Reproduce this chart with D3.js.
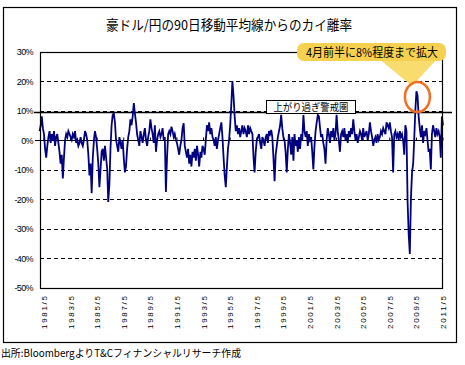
<!DOCTYPE html>
<html><head><meta charset="utf-8">
<script src="https://cdn.jsdelivr.net/npm/d3@7"></script>
<style>body{margin:0;background:#fff}svg{display:block}</style>
</head><body>
<script>
// ---- data ----
const startYear = 1981, startMonth = 0; // 1981/1, monthly values
const deviation = [
 3,5,8,4,2,-3,-6,-2,1,3,-1,2,
 0,3,-2,1,2,-1,-4,-8,-5,-13,-6,0,
 2,1,3,2,1,0,2,1,3,-1,0,-2,
 -1,1,-1,-2,0,3,2,0,-5,-12,-8,-18,
 -6,0,3,1,-3,-8,-16,-10,-4,-3,-7,-2,
 -6,-10,-21,-15,-3,5,8.5,9,6,0,-2,-4,
 1,-1,-3,0,-6,-11,-9,-3,1,3,7,5,
 8,12.5,9,6,2,0,-2,3,1,-1,2,4,
 0,-2,1,3,7,4,2,-1,5,-4,0,2,
 3,1,2,4,0,1,-17.6,-6,2,3,2,4.5,
 3,1,2,0,-1,-3,-5,-2,0,4,5.7,-2,
 -4,-6,-3,-8,-5,-9,-4,-6,-3,-7,-2,-5,
 -9,-4,-6,-2,-3,-5,0,5,3,6,2,4,
 1,0,-2,1,-3,0,2,4,6,1,-6,-12,
 -16,-9,-3,0,5,12,20,15,8,3,5,2,
 4,1,3,5,2,4,3,1,5,2,4,3,
 2,-6,-11,-4,0,1,2,-1,-3,1,0,-2,
 1,2,-1,3,2,3.4,1,-6,-14,-5,-2,1,
 3,5,8.5,4,1,0,-4,-11,-3,2,-1,-5,
 1,-7,2,-2,0,-4,1,-3,2,0,8.5,3,
 1,3,-2,2,0,1,-4,-10,-2,3,6,8.5,
 8,4,1,2,-1,-3,-8,0,4,2,-1,3,
 1,4,0,2,8.5,3,0,-4,2,3,1,4,
 0,2,-1,3,1,4,2,7,3,0,2,-1,
 1,3,2,0,4,1,2,3,0,2,6,3,
 1,-2,0,1,-1,2,0,1,3,2,4,3,
 2,6,5,4,6,3,1,-11,2,3,1,2,
 0,3,1,2,0,-5,5,3,-21,-32,-38.6,-20,
 -11,-8,0,10,16.5,15,8,4,1,5,-1,3,
 2,4,0,-4,-3,-10,2,5,3,1,4,2,
 3,1,-6,8,5
];
const yTicks = [30,20,10,0,-10,-20,-30,-40,-50];
const xTickLabels = ["1981/5","1983/5","1985/5","1987/5","1989/5","1991/5","1993/5","1995/5",
  "1997/5","1999/5","2001/5","2003/5","2005/5","2007/5","2009/5","2011/5"];
const title = "豪ドル/円の90日移動平均線からのカイ離率";
const calloutText = "4月前半に8%程度まで拡大";
const zoneText = "上がり過ぎ警戒圏";
const sourceText = "出所:BloombergよりT&Cフィナンシャルリサーチ作成";
const warnLevel = 10;

// ---- chart ----
const W = 465, H = 365;
const svg = d3.select("body").append("svg").attr("width", W).attr("height", H);
const jp = "'Noto Sans CJK JP', sans-serif";

svg.append("rect").attr("x",3.5).attr("y",7.5).attr("width",453).attr("height",335)
  .attr("fill","#fff").attr("stroke","#000").attr("stroke-width",1.2);

const parse = s => { const [yy,m] = s.split("/").map(Number); return new Date(yy, m-1, 1); };
const data = deviation.map((v,i) => ({date: new Date(startYear, startMonth + i, 1), v}));
const x = d3.scaleTime().domain([data[0].date, data[data.length-1].date]).range([39.6, 443]);
const y = d3.scaleLinear().domain([-50, 30]).range([287.5, 51.5]);
const L = 40, R = 443;

// title
svg.append("text").attr("x",229).attr("y",30).attr("text-anchor","middle")
  .attr("font-family",jp).attr("font-size",13.5).attr("textLength",246)
  .attr("lengthAdjust","spacingAndGlyphs").text(title);

// dashed gridlines
svg.append("g").selectAll("line").data(yTicks.filter(t => t < 30 && t > -50)).join("line")
  .attr("x1",L).attr("x2",R).attr("y1",d=>Math.round(y(d))+0.5).attr("y2",d=>Math.round(y(d))+0.5)
  .attr("stroke","#000").attr("stroke-width",1).attr("stroke-dasharray","4,3");

// warning line at 10%
svg.append("line").attr("x1",34).attr("x2",452)
  .attr("y1",Math.round(y(warnLevel))+1.5).attr("y2",Math.round(y(warnLevel))+1.5)
  .attr("stroke","#000").attr("stroke-width",1.3);

// zero axis
svg.append("line").attr("x1",35).attr("x2",R).attr("y1",Math.round(y(0))+0.5).attr("y2",Math.round(y(0))+0.5)
  .attr("stroke","#000").attr("stroke-width",1);
svg.append("g").selectAll("line").data(xTickLabels).join("line")
  .attr("x1",d=>x(parse(d))).attr("x2",d=>x(parse(d)))
  .attr("y1",Math.round(y(0))+0.5).attr("y2",Math.round(y(0))-2.5)
  .attr("stroke","#000").attr("stroke-width",1);

// series line
svg.append("path").datum(data)
  .attr("d", d3.line().x(d=>x(d.date)).y(d=>y(d.v)))
  .attr("fill","none").attr("stroke","#000080").attr("stroke-width",1.8).attr("stroke-linejoin","miter");

// plot frame
svg.append("rect").attr("x",L+0.5).attr("y",Math.round(y(30))+0.5)
  .attr("width",R-L-1).attr("height",Math.round(y(-50))-Math.round(y(30)))
  .attr("fill","none").attr("stroke","#000").attr("stroke-width",1.2);

// y labels
svg.append("g").selectAll("text").data(yTicks).join("text")
  .attr("x",33).attr("y",d=>y(d)+3.5).attr("text-anchor","end")
  .attr("font-family","'Liberation Sans', Arial, sans-serif").attr("font-size",9)
  .attr("letter-spacing",-0.6).text(d=>d+"%");

// x labels (rotated)
svg.append("g").selectAll("text").data(xTickLabels).join("text")
  .attr("transform",d=>`translate(${x(parse(d))+3},296) rotate(-90)`)
  .attr("text-anchor","end")
  .attr("font-family","'Liberation Sans', Arial, sans-serif").attr("font-size",8)
  .attr("textLength",33).attr("lengthAdjust","spacing").text(d=>d);

// zone label
svg.append("rect").attr("x",266.5).attr("y",100.5).attr("width",89).attr("height",13)
  .attr("fill","#fff").attr("stroke","#000").attr("stroke-width",1);
svg.append("text").attr("x",311).attr("y",110.5).attr("text-anchor","middle")
  .attr("font-family",jp).attr("font-size",10.5).attr("textLength",75)
  .attr("lengthAdjust","spacingAndGlyphs").text(zoneText);

// callout
const yellow = "#f6d14f";
svg.append("polygon").attr("points","378,58 438,58 412,86").attr("fill","#f8dc6e");
svg.append("rect").attr("x",297).attr("y",43).attr("width",149).attr("height",18).attr("rx",7)
  .attr("fill",yellow);
svg.append("text").attr("x",372).attr("y",57).attr("text-anchor","middle")
  .attr("font-family",jp).attr("font-size",12).attr("textLength",132)
  .attr("lengthAdjust","spacingAndGlyphs").text(calloutText);

// highlight ellipse around 2009 peak
const peak = data.reduce((a,b)=> (b.date.getFullYear()===2009 && b.v > a.v) ? b : a, {v:-Infinity});
svg.append("ellipse").attr("cx",x(peak.date)+1).attr("cy",97).attr("rx",12.5).attr("ry",15)
  .attr("fill","none").attr("stroke","#f26f21").attr("stroke-width",2.5);

// source
svg.append("text").attr("x",1).attr("y",357)
  .attr("font-family",jp).attr("font-size",10.5).attr("textLength",240)
  .attr("lengthAdjust","spacingAndGlyphs").text(sourceText);
</script>
</body></html>
